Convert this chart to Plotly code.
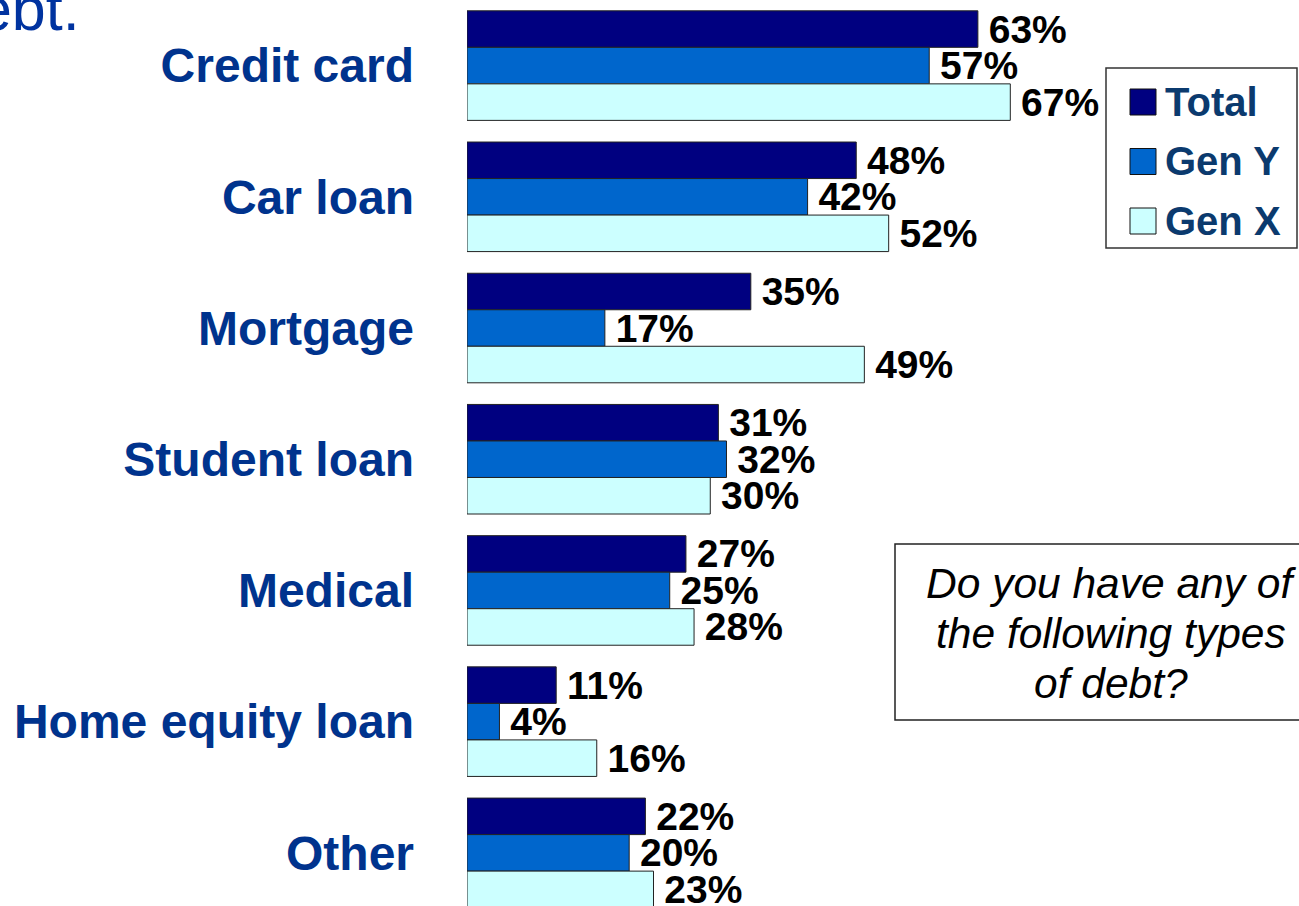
import plotly.graph_objects as go

# Survey data: share of respondents holding each type of debt (%)
categories = ["Credit card", "Car loan", "Mortgage", "Student loan",
              "Medical", "Home equity loan", "Other"]
series_names = ["Total", "Gen Y", "Gen X"]
total = [63, 48, 35, 31, 27, 11, 22]
gen_y = [57, 42, 17, 32, 25, 4, 20]
gen_x = [67, 52, 49, 30, 28, 16, 23]
series_values = [total, gen_y, gen_x]
series_colors = ["#000080", "#0066CC", "#CCFFFF"]

question_lines = ["Do you have any of", "the following types", "of debt?"]

W, H = 1299, 906
ML = 467  # left margin holding the category labels
FONT = "Liberation Sans, Arial, sans-serif"
LABEL_BLUE = "#00338D"
LEGEND_BLUE = "#0B3A6E"


def px_x(p):
    return (p - ML) / (W - ML)


def px_y(p):
    return 1 - p / H


fig = go.Figure()
for name, vals, color in zip(series_names, series_values, series_colors):
    fig.add_trace(go.Bar(
        y=categories, x=vals, name=name, orientation="h",
        marker=dict(color=color, line=dict(color="#222222", width=1)),
        texttemplate="\u2009%{x}%", textposition="outside",
        textfont=dict(family=FONT, size=39, color="black", weight="bold"),
        constraintext="none", cliponaxis=False, showlegend=False,
        hoverinfo="skip",
    ))

# Legend box with colour keys
shapes = [dict(type="rect", xref="paper", yref="paper",
               x0=px_x(1106), x1=px_x(1297), y0=px_y(248), y1=px_y(68),
               line=dict(color="#333333", width=1.5), fillcolor="white", layer="above")]
annotations = []
for i, (name, color) in enumerate(zip(series_names, series_colors)):
    cy = 102 + 59.5 * i
    shapes.append(dict(type="rect", xref="paper", yref="paper",
                       x0=px_x(1130), x1=px_x(1156), y0=px_y(cy + 13), y1=px_y(cy - 13),
                       line=dict(color="#111111", width=1), fillcolor=color, layer="above"))
    annotations.append(dict(xref="paper", yref="paper", x=px_x(1163), y=px_y(cy),
                            xanchor="left", yanchor="middle", showarrow=False, text=name,
                            font=dict(family=FONT, size=40, color=LEGEND_BLUE, weight="bold")))

# Question box, one annotation per line for tight line spacing
shapes.append(dict(type="rect", xref="paper", yref="paper",
                   x0=px_x(895), x1=px_x(1330), y0=px_y(720), y1=px_y(544),
                   line=dict(color="#222222", width=1.5), fillcolor="white", layer="above"))
for i, line in enumerate(question_lines):
    annotations.append(dict(xref="paper", yref="paper", x=px_x(1111), y=px_y(583 + 50 * i),
                            xanchor="center", yanchor="middle", showarrow=False, text=line,
                            font=dict(family=FONT, size=42.5, color="black", style="italic")))

# Tail of the slide title running off the top-left corner
annotations.append(dict(xref="paper", yref="paper", x=px_x(82), y=px_y(45),
                        xanchor="right", yanchor="bottom", showarrow=False, text="debt.",
                        font=dict(family=FONT, size=61, color="#0033A0")))

fig.update_layout(
    width=W, height=H,
    margin=dict(l=ML, r=0, t=0, b=0),
    paper_bgcolor="white", plot_bgcolor="white",
    barmode="group", bargap=0.165, bargroupgap=0,
    shapes=shapes, annotations=annotations,
    xaxis=dict(range=[0, 102.6], visible=False, showgrid=False, zeroline=False),
    yaxis=dict(range=[6.405, -0.5], showgrid=False, zeroline=False, showline=False,
               ticks="", ticklabelstandoff=52,
               tickfont=dict(family=FONT, size=48, color=LABEL_BLUE, weight="bold")),
)

fig.write_html("out.html")
